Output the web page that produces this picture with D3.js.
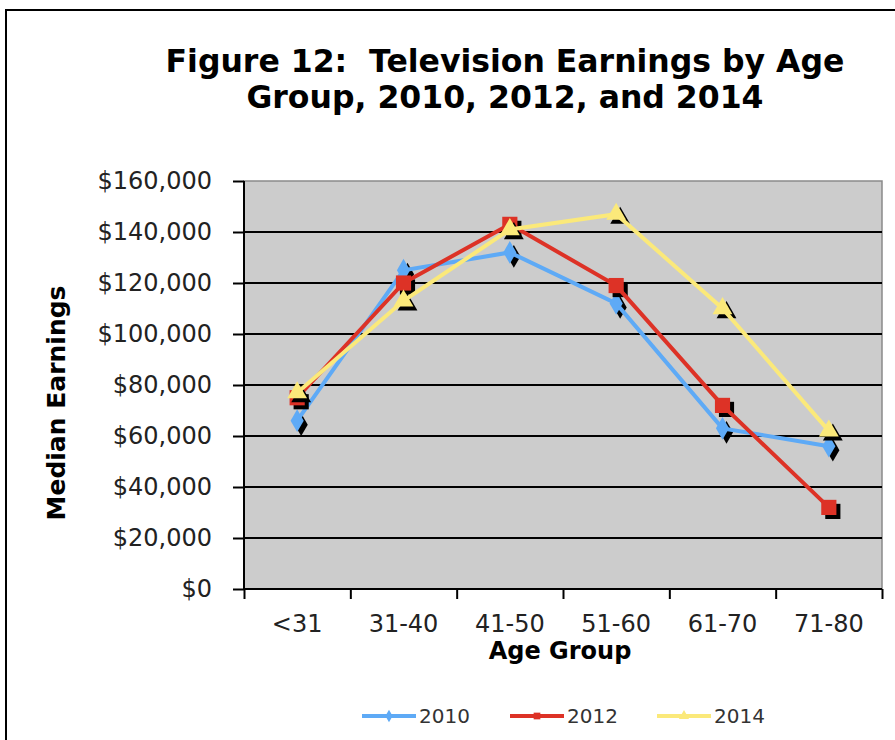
<!DOCTYPE html>
<meta charset="utf-8">
<html>
<script src="https://d3js.org/d3.v7.min.js"></script>
<body style="margin:0;background:#fff;">
<style>
    text { font-family: "DejaVu Sans", Verdana, sans-serif; }
    .tick text { fill: #222; }
</style>
<div id="chart"></div>
<script>
    // data
    var categories = ["<31", "31-40", "41-50", "51-60", "61-70", "71-80"];
    var years = ["2010", "2012", "2014"];
    var earn2010 = [66000, 125000, 132000, 112000, 63000, 56000];
    var earn2012 = [75000, 120000, 143000, 119000, 72000, 32000];
    var earn2014 = [77000, 113000, 141000, 147000, 110000, 62000];
    var yTicks = [0, 20000, 40000, 60000, 80000, 100000, 120000, 140000, 160000];

    var colors = {"2010": "#5eaaf6", "2012": "#dd3226", "2014": "#fbe97a"};
    var shapes = {"2010": d3.symbolDiamond, "2012": d3.symbolSquare, "2014": d3.symbolTriangle};

    var series = [
        {year: "2010", values: earn2010},
        {year: "2012", values: earn2012},
        {year: "2014", values: earn2014}
    ];

    var W = 895, H = 740;
    var plot = {left: 244, right: 882, top: 181, bottom: 589};

    var svg = d3.select("#chart").append("svg")
        .attr("width", W)
        .attr("height", H);

    // outer frame
    svg.append("rect")
        .attr("x", 6).attr("y", 10)
        .attr("width", W + 20).attr("height", H + 20)
        .attr("fill", "#fff")
        .attr("stroke", "#000")
        .attr("stroke-width", 2);

    //scales
    var x = d3.scaleBand().domain(categories).range([plot.left, plot.right]);
    var xEdge = d3.scaleLinear().domain([0, categories.length]).range([plot.left, plot.right]);
    var y = d3.scaleLinear().domain([0, 160000]).range([plot.bottom, plot.top]);

    //plot background
    svg.append("rect")
        .attr("x", plot.left).attr("y", plot.top)
        .attr("width", plot.right - plot.left)
        .attr("height", plot.bottom - plot.top)
        .attr("fill", "#cccccc")
        .attr("stroke", "#8a8a8a")
        .attr("stroke-width", 1.5);

    //gridlines
    svg.append("g")
        .selectAll("line")
        .data(yTicks.slice(1, -1))
        .enter().append("line")
        .attr("x1", plot.left).attr("x2", plot.right)
        .attr("y1", function(d) { return y(d); })
        .attr("y2", function(d) { return y(d); })
        .attr("stroke", "#000")
        .attr("stroke-width", 2);

    //y axis
    var yAxis = svg.append("g")
        .attr("transform", "translate(" + plot.left + ",0)")
        .call(d3.axisLeft(y).tickValues(yTicks).tickSize(11).tickPadding(21)
            .tickFormat(function(d) { return "$" + d3.format(",")(d); }));
    yAxis.selectAll("path, line").attr("stroke", "#000").attr("stroke-width", 2);
    yAxis.select(".domain").attr("d", "M0," + plot.top + "V" + plot.bottom);
    yAxis.selectAll("text").style("font-size", "24px").attr("font-family", null);

    //x axis: ticks on the category edges
    var xAxis = svg.append("g")
        .attr("transform", "translate(0," + plot.bottom + ")")
        .call(d3.axisBottom(xEdge).tickValues(d3.range(categories.length + 1))
            .tickSize(10).tickFormat(""));
    xAxis.selectAll("path, line").attr("stroke", "#000").attr("stroke-width", 2);
    xAxis.select(".domain").attr("d", "M" + plot.left + ",0H" + plot.right);

    svg.append("g")
        .selectAll("text")
        .data(categories)
        .enter().append("text")
        .attr("x", function(d) { return x(d) + x.bandwidth() / 2; })
        .attr("y", 632)
        .attr("text-anchor", "middle")
        .style("font-size", "24px")
        .style("fill", "#222")
        .text(function(d) { return d; });

    //axis titles
    svg.append("text")
        .attr("x", 560).attr("y", 659)
        .attr("text-anchor", "middle")
        .style("font-size", "24px")
        .style("font-weight", "bold")
        .text("Age Group");

    svg.append("text")
        .attr("transform", "translate(65,403) rotate(-90)")
        .attr("text-anchor", "middle")
        .style("font-size", "25px")
        .style("font-weight", "bold")
        .text("Median Earnings");

    //title
    svg.append("text")
        .attr("x", 505).attr("y", 72)
        .attr("text-anchor", "middle")
        .style("font-size", "31.5px")
        .style("font-weight", "bold")
        .style("white-space", "pre")
        .text("Figure 12:  Television Earnings by Age");
    svg.append("text")
        .attr("x", 505).attr("y", 108)
        .attr("text-anchor", "middle")
        .style("font-size", "31.5px")
        .style("font-weight", "bold")
        .text("Group, 2010, 2012, and 2014");

    //lines
    var line = d3.line()
        .x(function(d, i) { return x(categories[i]) + x.bandwidth() / 2; })
        .y(function(d) { return y(d); });

    var symbolSize = {"2010": 150, "2012": 230, "2014": 170};

    series.forEach(function(s) {
        var g = svg.append("g");
        // marker shadows
        g.selectAll(".shadow")
            .data(s.values)
            .enter().append("path")
            .attr("d", d3.symbol().type(shapes[s.year]).size(symbolSize[s.year]))
            .attr("transform", function(d, i) {
                return "translate(" + (x(categories[i]) + x.bandwidth() / 2 + 4) + "," + (y(d) + 4) + ")";
            })
            .attr("fill", "#000");
        g.append("path")
            .datum(s.values)
            .attr("d", line)
            .attr("fill", "none")
            .attr("stroke", colors[s.year])
            .attr("stroke-width", 4);
        g.selectAll(".marker")
            .data(s.values)
            .enter().append("path")
            .attr("d", d3.symbol().type(shapes[s.year]).size(symbolSize[s.year]))
            .attr("transform", function(d, i) {
                return "translate(" + (x(categories[i]) + x.bandwidth() / 2) + "," + y(d) + ")";
            })
            .attr("fill", colors[s.year]);
    });

    //legend
    var legendX = [362, 510, 657];
    var legend = svg.append("g");
    years.forEach(function(yr, i) {
        var lg = legend.append("g").attr("transform", "translate(" + legendX[i] + ",716)");
        lg.append("line")
            .attr("x1", 0).attr("x2", 54)
            .attr("stroke", colors[yr])
            .attr("stroke-width", 4);
        lg.append("path")
            .attr("d", d3.symbol().type(shapes[yr]).size(45))
            .attr("transform", "translate(27,0)")
            .attr("fill", colors[yr]);
        lg.append("text")
            .attr("x", 57).attr("y", 7)
            .style("font-size", "20px")
            .style("fill", "#333")
            .text(yr);
    });
</script>
</body>
</html>
